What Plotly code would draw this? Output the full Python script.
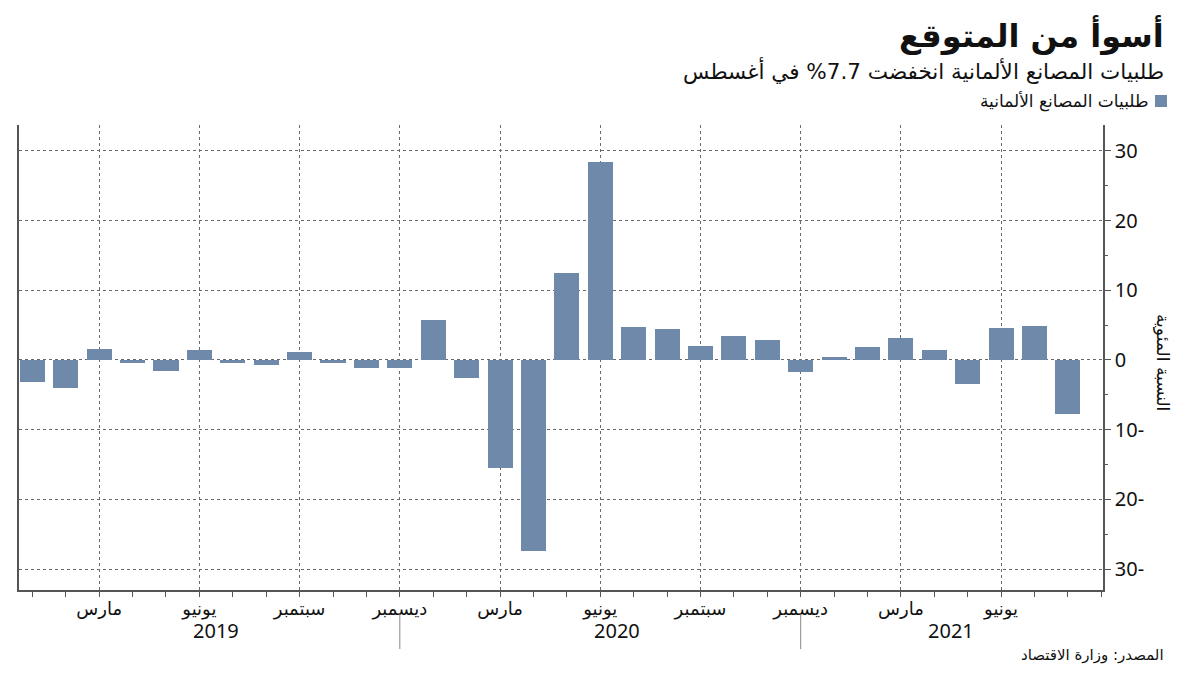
import plotly.graph_objects as go

# ---- data ----
months = [
    "2019-01", "2019-02", "2019-03", "2019-04", "2019-05", "2019-06",
    "2019-07", "2019-08", "2019-09", "2019-10", "2019-11", "2019-12",
    "2020-01", "2020-02", "2020-03", "2020-04", "2020-05", "2020-06",
    "2020-07", "2020-08", "2020-09", "2020-10", "2020-11", "2020-12",
    "2021-01", "2021-02", "2021-03", "2021-04", "2021-05", "2021-06",
    "2021-07", "2021-08",
]
orders_change = [
    -3.2, -4.0, 1.6, -0.4, -1.6, 1.4, -0.4, -0.7, 1.2, -0.5, -1.1, -1.2,
    5.8, -2.6, -15.5, -27.4, 12.5, 28.4, 4.7, 4.4, 2.0, 3.5, 2.8, -1.7,
    0.4, 1.9, 3.2, 1.4, -3.4, 4.6, 4.9, -7.7,
]
month_names = {3: "مارس", 6: "يونيو", 9: "سبتمبر", 12: "ديسمبر"}
years = ["2019", "2020", "2021"]
y_tickvals = [-30, -20, -10, 0, 10, 20, 30]
y_ticktext = ["30-", "20-", "10-", "0", "10", "20", "30"]

title = "أسوأ من المتوقع"
subtitle = "طلبيات المصانع الألمانية انخفضت 7.7% في أغسطس"
series_name = "طلبيات المصانع الألمانية"
y_title = "النسبة المئوية"
source = "المصدر: وزارة الاقتصاد"

# ---- derived ----
x_idx = list(range(len(months)))
tick_idx = [i for i, m in enumerate(months) if int(m[5:]) in month_names]
tick_txt = [month_names[int(months[i][5:])] for i in tick_idx]
dec_idx = [i for i, m in enumerate(months) if m.endswith("-12")]
year_centers = []
for yv in years:
    ids = [i for i, m in enumerate(months) if m.startswith(yv)]
    year_centers.append(sum(ids) / len(ids))

AR = "DejaVu Sans"
NUM = "Noto Sans, DejaVu Sans"
BAR = "#6f89ab"
AX = "#555555"
GRID = "#6a6a6a"

fig = go.Figure()
fig.add_trace(go.Bar(
    x=x_idx, y=orders_change, width=0.75,
    marker=dict(color=BAR, line=dict(width=0)),
    name=series_name, showlegend=False,
))

fig.update_layout(
    width=1200, height=675,
    margin=dict(l=19, r=97, t=125, b=85),
    paper_bgcolor="white", plot_bgcolor="white",
    bargap=0,
    font=dict(family=AR, color="#111"),
)

fig.update_xaxes(
    range=[-0.4, len(months) + 0.05],
    tickmode="array", tickvals=tick_idx, ticktext=tick_txt,
    tickfont=dict(family=AR, size=18, color="#111"),
    ticks="outside", ticklen=5, tickcolor=AX,
    ticklabelstandoff=-3,
    minor=dict(tickmode="linear", tick0=0, dtick=1, ticks="outside",
               ticklen=5, tickcolor=AX, showgrid=False),
    showgrid=True, griddash="dot", gridcolor=GRID, gridwidth=1,
    showline=True, linecolor=AX, linewidth=1.5,
    zeroline=False,
)
fig.update_yaxes(
    side="right", range=[-33.0, 33.7],
    tickmode="array", tickvals=y_tickvals, ticktext=y_ticktext,
    tickfont=dict(family=NUM, size=20, color="#111"),
    ticks="outside", ticklen=6, tickcolor=AX,
    minor=dict(tickmode="linear", tick0=5, dtick=10, ticks="outside",
               ticklen=3, tickcolor=AX, showgrid=False),
    showgrid=True, griddash="dot", gridcolor=GRID, gridwidth=1,
    showline=True, mirror=True, linecolor=AX, linewidth=1.5,
    zeroline=False,
)

# vertical year separators below axis
for i in dec_idx:
    fig.add_shape(type="line", xref="x", yref="paper",
                  x0=i, x1=i, y0=-0.052, y1=-0.127,
                  line=dict(color="#888", width=1))
# year labels
for yv, c in zip(years, year_centers):
    fig.add_annotation(x=c, y=-0.088, xref="x", yref="paper",
                       text=yv, showarrow=False,
                       font=dict(family=NUM, size=20, color="#111"),
                       xanchor="center", yanchor="middle")

# title / subtitle
fig.add_annotation(x=(1166 - 19) / 1084, y=(590 - 35) / 465,
                   xref="paper", yref="paper",
                   text="<b>" + title + "</b>", showarrow=False,
                   font=dict(family=AR, size=32, color="#111"),
                   xanchor="right", yanchor="middle")
fig.add_annotation(x=(1166 - 19) / 1084, y=(590 - 70) / 465,
                   xref="paper", yref="paper",
                   text=subtitle, showarrow=False,
                   font=dict(family=AR, size=21.5, color="#111"),
                   xanchor="right", yanchor="middle")
# legend (RTL: text left of swatch)
fig.add_shape(type="rect", xref="paper", yref="paper",
              x0=(1155 - 19) / 1084, x1=(1167 - 19) / 1084,
              y0=(590 - 107) / 465, y1=(590 - 95) / 465,
              fillcolor=BAR, line=dict(width=0))
fig.add_annotation(x=(1150 - 19) / 1084, y=(590 - 101) / 465,
                   xref="paper", yref="paper",
                   text=series_name, showarrow=False,
                   font=dict(family=AR, size=17, color="#111"),
                   xanchor="right", yanchor="middle")
# y-axis title
fig.add_annotation(x=(1163 - 19) / 1084, y=(590 - 362) / 465,
                   xref="paper", yref="paper",
                   text=y_title, textangle=90, showarrow=False,
                   font=dict(family=AR, size=17, color="#111"),
                   xanchor="center", yanchor="middle")
# source
fig.add_annotation(x=(1166 - 19) / 1084, y=(590 - 655) / 465,
                   xref="paper", yref="paper",
                   text=source, showarrow=False,
                   font=dict(family=AR, size=15, color="#111"),
                   xanchor="right", yanchor="middle")

fig.write_html("out.html",
               config={"displayModeBar": False},
               post_script="document.body.style.margin='0';")
